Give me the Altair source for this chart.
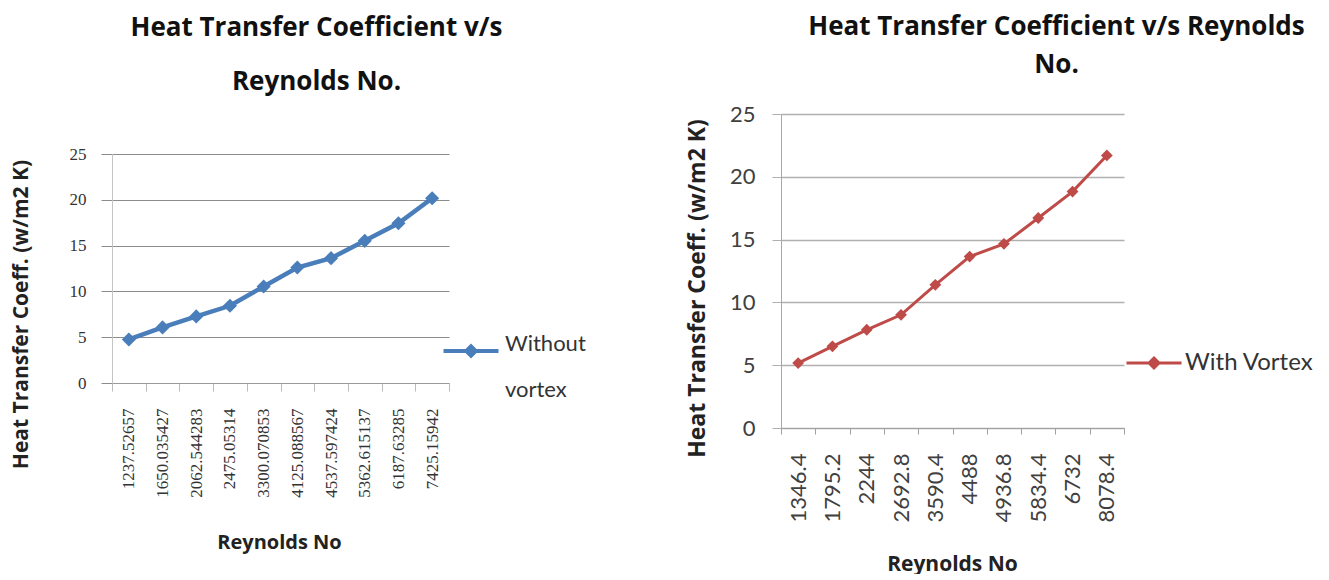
import altair as alt
import pandas as pd

# ---- data ----
re_without = ["1237.52657", "1650.035427", "2062.544283", "2475.05314", "3300.070853",
              "4125.088567", "4537.597424", "5362.615137", "6187.63285", "7425.15942"]
h_without = [4.75, 6.07, 7.27, 8.43, 10.54, 12.61, 13.63, 15.52, 17.44, 20.17]

re_with = ["1346.4", "1795.2", "2244", "2692.8", "3590.4",
           "4488", "4936.8", "5834.4", "6732", "8078.4"]
h_with = [5.17, 6.50, 7.82, 9.01, 11.40, 13.65, 14.66, 16.72, 18.82, 21.70]

y_ticks = [0, 5, 10, 15, 20, 25]

# legend text of the left chart wraps onto a second line ("Without" / "vortex")
left_legend_lines = ["Without vortex", "vortex"]

BLUE = "#4a7ebb"
RED = "#be4b48"

dl = pd.DataFrame({"re": re_without, "h": h_without, "series": "Without vortex"})
dr = pd.DataFrame({"re": re_with, "h": h_with, "series": "With Vortex"})

# ---------------- left chart ----------------
# the left plot sits lower than the right one: its y range is placed inside a
# view of the same height as the right view, and the x axis is lifted to match
xl = alt.X("re:N", sort=re_without,
           scale=alt.Scale(type="band", paddingInner=0, paddingOuter=0),
           axis=alt.Axis(title="Reynolds No", labelAngle=270, labelFont="Liberation Serif",
                         labelFontSize=17, labelColor="#333", labelPadding=17,
                         labelOverlap=False, labelLimit=0, offset=-45,
                         tickBand="extent", tickSize=8, tickColor="#bbbbbb",
                         domainColor="#9a9a9a", grid=False,
                         titleFont="Open Sans", titleFontWeight="bold", titleFontSize=20,
                         titleColor="#222", titleX=167, titleY=159, titleBaseline="middle"))
yl = alt.Y("h:Q", scale=alt.Scale(domain=[0, 25], range=[269, 40]),
           axis=alt.Axis(values=y_ticks, title="Heat Transfer Coeff. (w/m2 K)",
                         titleAngle=270, titleX=-91, titleY=200, titleBaseline="middle",
                         titleAlign="center", titleFont="Open Sans", titleFontWeight="bold",
                         titleFontSize=21, titleColor="#222",
                         labelFont="Liberation Serif", labelFontSize=17, labelColor="#333",
                         labelPadding=15, tickSize=11, tickColor="#8c8c8c",
                         gridColor="#8c8c8c", gridWidth=1, domainColor="#c4c4c4"))

left_line = alt.Chart(dl).mark_line(strokeWidth=4.5, color=BLUE).encode(x=xl, y=yl)
left_pts = alt.Chart(dl).mark_point(shape="diamond", filled=True, size=200, opacity=1).encode(
    x=xl, y=yl,
    color=alt.Color("series:N",
                    scale=alt.Scale(domain=left_legend_lines, range=[BLUE, "rgba(0,0,0,0)"]),
                    legend=alt.Legend(title=None, orient="none", legendX=348, legendY=226,
                                      padding=0, rowPadding=20,
                                      labelExpr="datum.value == 'Without vortex' ? 'Without' : datum.label",
                                      labelBaseline="alphabetic",
                                      labelFont="Lato", labelFontSize=22, labelColor="#333",
                                      labelOffset=23, labelLimit=0,
                                      symbolType="M-2.75,-0.2L2.75,-0.2L2.75,0.2L-2.75,0.2Z"
                                                 "M-0.75,0L0,-0.75L0.75,0L0,0.75Z",
                                      symbolSize=400, symbolStrokeWidth=0))
)

left = alt.layer(left_line, left_pts).properties(
    width=337, height=314,
    title=alt.TitleParams(text=["Heat Transfer Coefficient v/s", "Reynolds No."],
                          font="Open Sans", fontWeight="bold", fontSize=26, lineHeight=54,
                          anchor="middle", frame="group", dx=36, offset=19, color="#111")
)

# ---------------- right chart ----------------
xr = alt.X("re:N", sort=re_with,
           scale=alt.Scale(type="band", paddingInner=0, paddingOuter=0),
           axis=alt.Axis(title="Reynolds No", labelAngle=270, labelFont="Lato",
                         labelFontSize=22, labelColor="#404040", labelPadding=19,
                         labelOverlap=False, labelLimit=0,
                         tickBand="extent", tickSize=6, tickColor="#a0a0a0",
                         domainColor="#a0a0a0", grid=False,
                         titleFont="Open Sans", titleFontWeight="bold", titleFontSize=21,
                         titleColor="#222", titleX=171, titleY=136, titleBaseline="middle"))
yr = alt.Y("h:Q", scale=alt.Scale(domain=[0, 25]),
           axis=alt.Axis(values=y_ticks, title="Heat Transfer Coeff. (w/m2 K)",
                         titleAngle=270, titleX=-84, titleY=174, titleBaseline="middle",
                         titleAlign="center", titleFont="Open Sans", titleFontWeight="bold",
                         titleFontSize=23, titleColor="#222",
                         labelFont="Lato", labelFontSize=22, labelColor="#404040",
                         labelPadding=17, tickSize=9, tickColor="#b0b0b0",
                         gridColor="#b0b0b0", gridWidth=1.6, domainColor="#a8a8a8"))

right_line = alt.Chart(dr).mark_line(strokeWidth=3).encode(
    x=xr, y=yr,
    color=alt.Color("series:N", scale=alt.Scale(domain=["With Vortex"], range=[RED]),
                    legend=alt.Legend(title=None, orient="none", legendX=344, legendY=220,
                                      padding=0, labelFont="Lato", labelFontSize=24,
                                      labelColor="#333", labelOffset=2, labelLimit=0,
                                      symbolType="M-1,0L1,0M-0.18,0L0,-0.18L0.18,0L0,0.18Z",
                                      symbolSize=3025, symbolStrokeWidth=3,
                                      symbolFillColor=RED))
)
right_pts = alt.Chart(dr).mark_point(shape="diamond", filled=True, size=140, opacity=1,
                                     color=RED).encode(x=xr, y=yr)

right = alt.layer(right_line, right_pts).properties(
    width=343, height=314,
    title=alt.TitleParams(text=["Heat Transfer Coefficient v/s Reynolds", "No."],
                          font="Open Sans", fontWeight="bold", fontSize=26, lineHeight=38,
                          anchor="middle", frame="group", dx=104, offset=25, color="#111")
)

chart = alt.concat(left, right, columns=2, spacing=99).properties(
    align="none",
    padding={"left": 2, "top": 6, "right": 2, "bottom": 0},
    background="white"
).resolve_scale(color="independent").resolve_legend(color="independent").configure_view(
    strokeWidth=0)

chart.save("out.html", embed_options={"renderer": "svg", "actions": False})
